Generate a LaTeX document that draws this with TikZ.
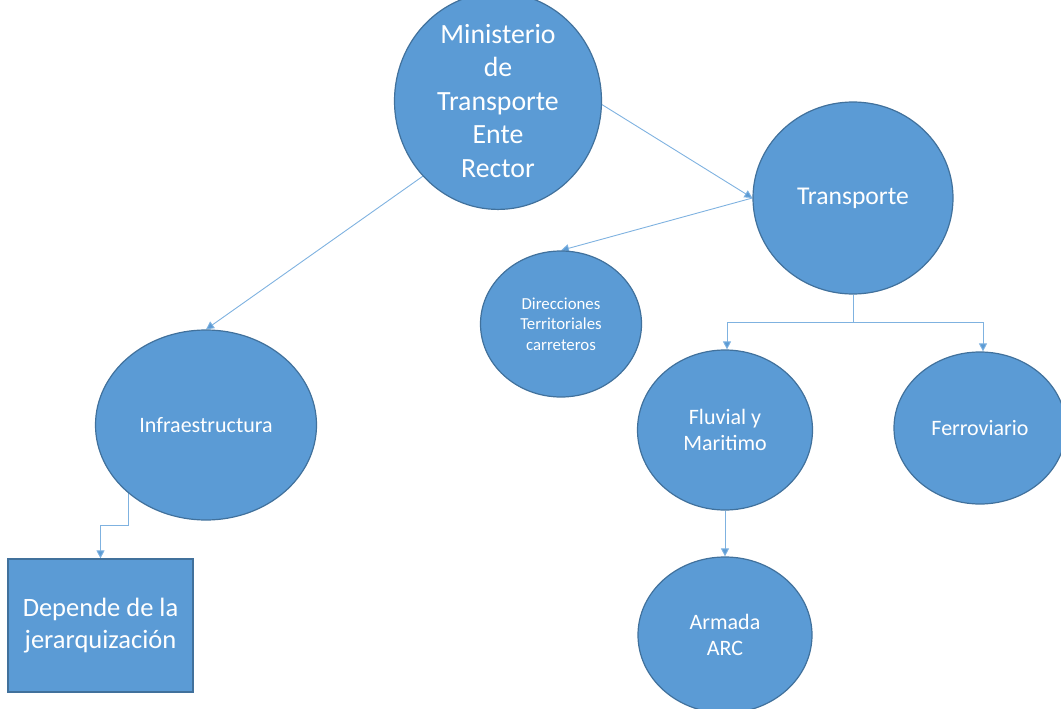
\documentclass[tikz,border=0pt]{standalone}
\usepackage{fontspec}
\setmainfont{Carlito}
\usetikzlibrary{shapes.geometric,arrows.meta,calc,backgrounds}
\definecolor{nodefill}{HTML}{5B9BD5}
\definecolor{nodeedge}{HTML}{41719C}
\definecolor{linkblue}{HTML}{7FB2E0}
\tikzset{
  bubble/.style={ellipse, fill=nodefill, draw=nodeedge, line width=1.2pt,
    inner sep=0pt, text=white, align=center},
  boxnode/.style={rectangle, fill=nodefill, draw=nodeedge, line width=1.2pt,
    inner sep=0pt, text=white, align=center},
  conn/.style={draw=linkblue, line width=0.9pt,
    -{Triangle[length=8pt,width=8pt,fill=nodefill]}},
  plain/.style={draw=linkblue, line width=0.9pt},
}
\begin{document}
\begin{tikzpicture}[x=1pt,y=-1pt]
\useasboundingbox (0,0) rectangle (1061,709);

% organisation bubbles
\node[bubble, minimum width=207pt, minimum height=200pt, font={\fontsize{27.8}{33.5}\selectfont}]
  (min) at (498,101) {Ministerio\\de\\Transporte\\Ente\\Rector};
\node[bubble, minimum width=200pt, minimum height=192pt, font={\fontsize{25.6}{30}\selectfont}]
  (trans) at (853,198) {Transporte};
\node[bubble, minimum width=161pt, minimum height=146pt, font={\fontsize{16.8}{20.5}\selectfont}]
  (dir) at (561,324) {Direcciones\\Territoriales\\carreteros};
\node[bubble, minimum width=175pt, minimum height=160pt, font={\fontsize{22}{26}\selectfont}]
  (fluv) at (725,430) {Fluvial y\\Maritimo};
\node[bubble, minimum width=172pt, minimum height=152pt, font={\fontsize{22}{26}\selectfont}]
  (ferro) at (980,428) {Ferroviario};
\node[bubble, minimum width=174pt, minimum height=156pt, font={\fontsize{22}{26}\selectfont}]
  (arm) at (725,635) {Armada\\ARC};
\node[bubble, minimum width=221pt, minimum height=190pt, font={\fontsize{22}{26}\selectfont}]
  (infra) at (206,425) {Infraestructura};
\node[boxnode, minimum width=185pt, minimum height=133pt, font={\fontsize{26.5}{32}\selectfont}]
  (dep) at (100.5,625.5) {Depende de la\\jerarquización};

% connectors, kept behind the bubbles
\begin{scope}[on background layer]
  \draw[conn] (min.-2) -- (trans.west);
  \draw[conn] (trans.west) -- (dir.north);
  \draw[conn] (min.225) -- (infra.north);
  \draw[conn] ([xshift=-78pt]infra.center) |- ($(dep.north)+(0,-33)$) -- (dep.north);
  \coordinate (split) at ($(trans.south)+(0,28)$);
  \draw[plain] (trans.south) -- (split);
  \draw[conn] (split) -| ([xshift=2pt]fluv.north);
  \draw[conn] (split) -| ([xshift=3pt]ferro.north);
  \draw[conn] (fluv.south) -- (arm.north);
\end{scope}
\end{tikzpicture}
\end{document}
